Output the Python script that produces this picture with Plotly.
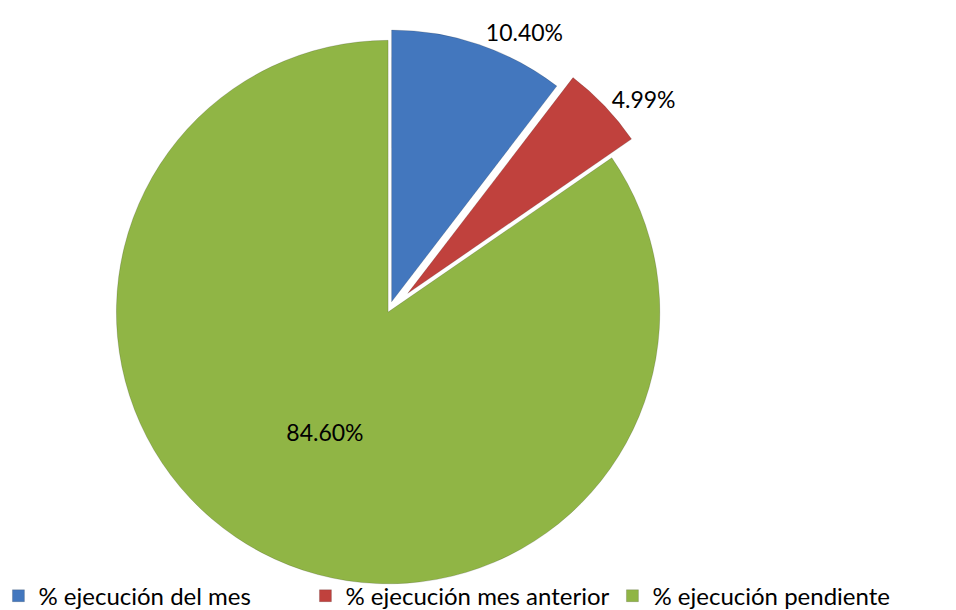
import plotly.graph_objects as go

labels = ["% ejecución del mes", "% ejecución mes anterior", "% ejecución pendiente"]
values = [10.40, 4.99, 84.60]
colors = ["#4377BE", "#C0413D", "#90B545"]
pulls = [0.04, 0.1, 0]
text_positions = ["outside", "outside", "inside"]

fig = go.Figure(go.Pie(
    labels=labels,
    values=values,
    sort=False,
    direction="clockwise",
    rotation=0,
    pull=pulls,
    marker=dict(colors=colors, line=dict(color="rgba(0,0,0,0.15)", width=1)),
    texttemplate="%{value:.2f}%",
    textposition=text_positions,
    textfont=dict(family="Lato, Open Sans, sans-serif", size=23, color="black"),
    insidetextorientation="horizontal",
    domain=dict(x=[0.0846, 0.7106], y=[0.0115, 0.9915]),
    showlegend=True,
))

fig.update_layout(
    width=956, height=610,
    margin=dict(l=0, r=0, t=0, b=0, autoexpand=False),
    paper_bgcolor="white",
    plot_bgcolor="white",
    font=dict(family="Lato, Open Sans, sans-serif", size=20, color="black"),
    legend=dict(
        orientation="h",
        x=-0.01, y=-0.001, xanchor="left", yanchor="bottom",
        entrywidth=262, entrywidthmode="pixels",
        font=dict(size=24),
        bgcolor="rgba(0,0,0,0)",
    ),
)

fig.write_html("out.html")
